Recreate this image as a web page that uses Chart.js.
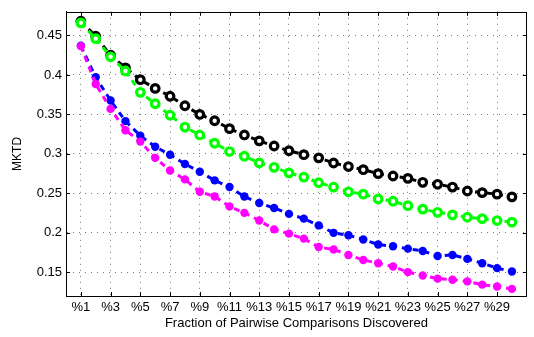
<!DOCTYPE html>
<html>
<head>
<meta charset="utf-8">
<script src="https://cdn.jsdelivr.net/npm/chart.js@4/dist/chart.umd.min.js"></script>
<style>
html,body{margin:0;padding:0;background:#fff;}
#wrap{width:534px;height:337px;}
</style>
</head>
<body>
<div id="wrap"><canvas id="c" width="534" height="337"></canvas></div>
<script>
const categories = [1,2,3,4,5,6,7,8,9,10,11,12,13,14,15,16,17,18,19,20,21,22,23,24,25,26,27,28,29,30];
const xTickValues = [1,3,5,7,9,11,13,15,17,19,21,23,25,27,29];
const xTickLabels = ['%1','%3','%5','%7','%9','%11','%13','%15','%17','%19','%21','%23','%25','%27','%29'];
const yTickValues = [0.15,0.2,0.25,0.3,0.35,0.4,0.45];
const yTickLabels = ['0.15','0.2','0.25','0.3','0.35','0.4','0.45'];

const blackSeries = [0.468,0.449,0.425,0.409,0.394,0.383,0.373,0.361,0.350,0.342,0.332,0.324,0.3165,0.310,0.304,0.299,0.295,0.2885,0.284,0.280,0.275,0.272,0.269,0.264,0.2615,0.258,0.253,0.251,0.249,0.2456];
const greenSeries = [0.466,0.446,0.423,0.405,0.378,0.3635,0.349,0.334,0.324,0.3135,0.303,0.297,0.2885,0.283,0.276,0.2706,0.2635,0.258,0.252,0.249,0.243,0.240,0.2344,0.230,0.226,0.2228,0.2198,0.218,0.2156,0.2135];
const blueSeries = [0.437,0.397,0.3677,0.3415,0.323,0.309,0.299,0.2873,0.2773,0.2665,0.258,0.246,0.2378,0.2315,0.224,0.218,0.2094,0.200,0.197,0.1916,0.1853,0.183,0.180,0.177,0.1706,0.172,0.167,0.1615,0.1553,0.151];
const magentaSeries = [0.4365,0.3885,0.357,0.330,0.3156,0.295,0.279,0.2677,0.252,0.246,0.2335,0.2253,0.2156,0.2044,0.199,0.1927,0.182,0.179,0.172,0.1656,0.1615,0.1573,0.1503,0.146,0.142,0.1406,0.1385,0.1344,0.132,0.129];

const toPoints = arr => categories.map((c,i)=>({x:c,y:arr[i]}));

const FONT = "'Liberation Sans', Arial, Helvetica, sans-serif";

const boxPlugin = {
  id:'box',
  afterDraw(chart){
    const {ctx, chartArea:a, scales} = chart;
    ctx.save();
    ctx.strokeStyle = '#000';
    ctx.lineWidth = 1;
    const tl = 4;
    ctx.beginPath();
    xTickValues.forEach(v=>{
      const px = Math.round(scales.x.getPixelForValue(v))+0.5;
      ctx.moveTo(px, a.bottom); ctx.lineTo(px, a.bottom - tl);
      ctx.moveTo(px, a.top); ctx.lineTo(px, a.top + tl);
    });
    yTickValues.forEach(v=>{
      const py = Math.round(scales.y.getPixelForValue(v))+0.5;
      ctx.moveTo(a.left, py); ctx.lineTo(a.left + tl, py);
      ctx.moveTo(a.right, py); ctx.lineTo(a.right - tl, py);
    });
    ctx.stroke();
    ctx.strokeRect(Math.round(a.left)+0.5, Math.round(a.top)+0.5, Math.round(a.right-a.left)-1, Math.round(a.bottom-a.top));
    ctx.restore();
  }
};

const lineDs = (label, data, color, style) => Object.assign({
  label, data: toPoints(data),
  borderColor: color,
  borderWidth: 3,
  borderDash: [6,5],
  fill: false,
  tension: 0,
  pointBorderColor: color,
}, style);

new Chart(document.getElementById('c'), {
  type: 'line',
  data: {
    datasets: [
      lineDs('magenta', magentaSeries, '#ff00ff', {pointRadius:4.2, pointBorderWidth:0, pointBackgroundColor:'#ff00ff'}),
      lineDs('blue', blueSeries, '#0000ff', {pointRadius:4.2, pointBorderWidth:0, pointBackgroundColor:'#0000ff'}),
      lineDs('green', greenSeries, '#00ff00', {pointRadius:3.8, pointBorderWidth:3.2, pointBackgroundColor:'#ffffff'}),
      lineDs('black', blackSeries, '#000000', {pointRadius:3.8, pointBorderWidth:3.2, pointBackgroundColor:'#ffffff'})
    ]
  },
  plugins: [boxPlugin],
  options: {
    responsive: false,
    animation: false,
    events: [],
    layout: {padding: {top: 8, right: 2, left: 0, bottom: 0}},
    plugins: {legend: {display:false}, tooltip: {enabled:false}},
    scales: {
      x: {
        type: 'linear', min: 0, max: 31,
        afterBuildTicks: s => { s.ticks = xTickValues.map(v=>({value:v})); },
        afterFit: s => { s.height = 41; },
        ticks: {
          autoSkip: false, maxRotation: 0, padding: 4,
          color: '#000', font: {family: FONT, size: 13},
          callback: v => xTickLabels[xTickValues.indexOf(v)]
        },
        grid: {color:'#777', lineWidth:1, tickLength:0, drawTicks:false},
        border: {display:true, color:'#000', dash:[1,5]},
        title: {display:true, text:'Fraction of Pairwise Comparisons Discovered', color:'#000', font:{family:FONT, size:13}, padding:{top:0,bottom:6}}
      },
      y: {
        type: 'linear', min: 0.12, max: 0.48,
        afterBuildTicks: s => { s.ticks = yTickValues.map(v=>({value:v})); },
        afterFit: s => { s.width = 66; },
        ticks: {
          autoSkip:false, padding: 4,
          color:'#000', font:{family:FONT, size:13},
          callback: v => { const i = yTickValues.findIndex(t=>Math.abs(t-v)<1e-9); return i>=0 ? yTickLabels[i] : ''; }
        },
        grid: {color:'#777', lineWidth:1, tickLength:0, drawTicks:false},
        border: {display:true, color:'#000', dash:[1,5]},
        title: {display:true, text:'MKTD', color:'#000', font:{family:FONT, size:12}, padding:{top:10,bottom:0}}
      }
    }
  }
});
</script>
</body>
</html>
